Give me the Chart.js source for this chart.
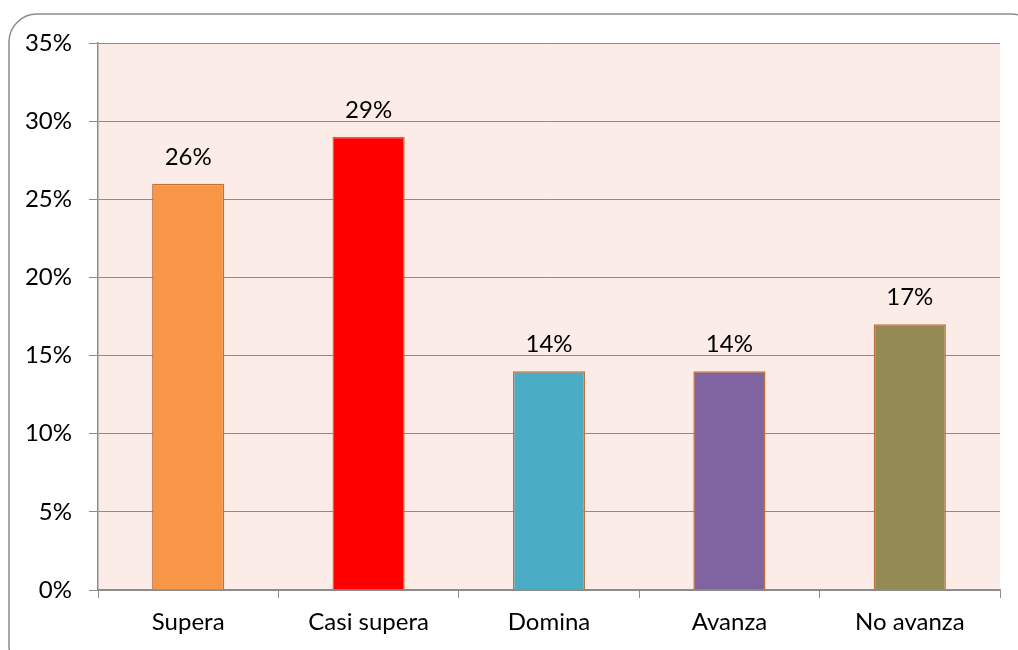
<!DOCTYPE html>
<html>
<head>
<meta charset="utf-8">
<script src="https://cdn.jsdelivr.net/npm/chart.js@4"></script>
<style>
  html, body { margin: 0; padding: 0; background: #fff; }
  #wrap { width: 1018px; height: 650px; position: relative; }
</style>
</head>
<body>
<div id="wrap"><canvas id="levelChart"></canvas></div>
<script>
// Chart data
const categories = ['Supera', 'Casi supera', 'Domina', 'Avanza', 'No avanza'];
const percentages = [26, 29, 14, 14, 17];
const barColors = ['#F79646', '#FF0000', '#4BACC6', '#8064A2', '#948A54'];
const yTicks = [0, 5, 10, 15, 20, 25, 30, 35];

const fontFamily = 'Lato, "Open Sans", sans-serif';

// Outer rounded frame and plot background
const framePlugin = {
    id: 'frame',
    beforeDraw(chart) {
        const ctx = chart.ctx;
        const a = chart.chartArea;
        ctx.save();
        ctx.fillStyle = '#FCECE7';
        ctx.fillRect(a.left, a.top, a.right - a.left, a.bottom - a.top);
        ctx.strokeStyle = '#8C8C8C';
        ctx.lineWidth = 1.5;
        ctx.beginPath();
        ctx.roundRect(9, 14, 1030, 660, 28);
        ctx.stroke();
        ctx.restore();
    }
};

// Value labels above bars
const valueLabels = {
    id: 'valueLabels',
    afterDatasetsDraw(chart) {
        const ctx = chart.ctx;
        const meta = chart.getDatasetMeta(0);
        ctx.save();
        ctx.font = '24px ' + fontFamily;
        ctx.fillStyle = '#000';
        ctx.textAlign = 'center';
        ctx.textBaseline = 'alphabetic';
        meta.data.forEach((bar, i) => {
            ctx.fillText(percentages[i] + '%', bar.x, bar.y - 19);
        });
        ctx.restore();
    }
};

const ctx = document.getElementById('levelChart').getContext('2d');
const levelChart = new Chart(ctx, {
    type: 'bar',
    data: {
        labels: categories,
        datasets: [{
            data: percentages,
            backgroundColor: barColors,
            borderColor: '#C0703A',
            borderWidth: 1.5,
            categoryPercentage: 1,
            barPercentage: 0.4
        }]
    },
    plugins: [framePlugin, valueLabels],
    options: {
        responsive: true,
        maintainAspectRatio: false,
        animation: false,
        layout: { padding: { top: 43, right: 18, left: 0, bottom: 0 } },
        plugins: {
            legend: { display: false },
            tooltip: { enabled: false }
        },
        scales: {
            x: {
                grid: {
                    offset: true,
                    drawOnChartArea: false,
                    color: '#8C8C8C',
                    tickLength: 8
                },
                border: { color: '#8C8C8C', width: 1.5 },
                ticks: {
                    color: '#000',
                    font: { family: fontFamily, size: 24 },
                    padding: 10
                },
                afterFit(scale) { scale.height = 60; }
            },
            y: {
                min: 0,
                max: 35,
                afterBuildTicks(scale) {
                    scale.ticks = yTicks.map(v => ({ value: v }));
                },
                grid: {
                    color: '#8C8C8C',
                    tickLength: 9
                },
                border: { color: '#8C8C8C', width: 1.5 },
                ticks: {
                    color: '#000',
                    font: { family: fontFamily, size: 24 },
                    padding: 17,
                    callback: v => v + '%'
                },
                afterFit(scale) { scale.width = 98; }
            }
        }
    }
});
</script>
</body>
</html>
